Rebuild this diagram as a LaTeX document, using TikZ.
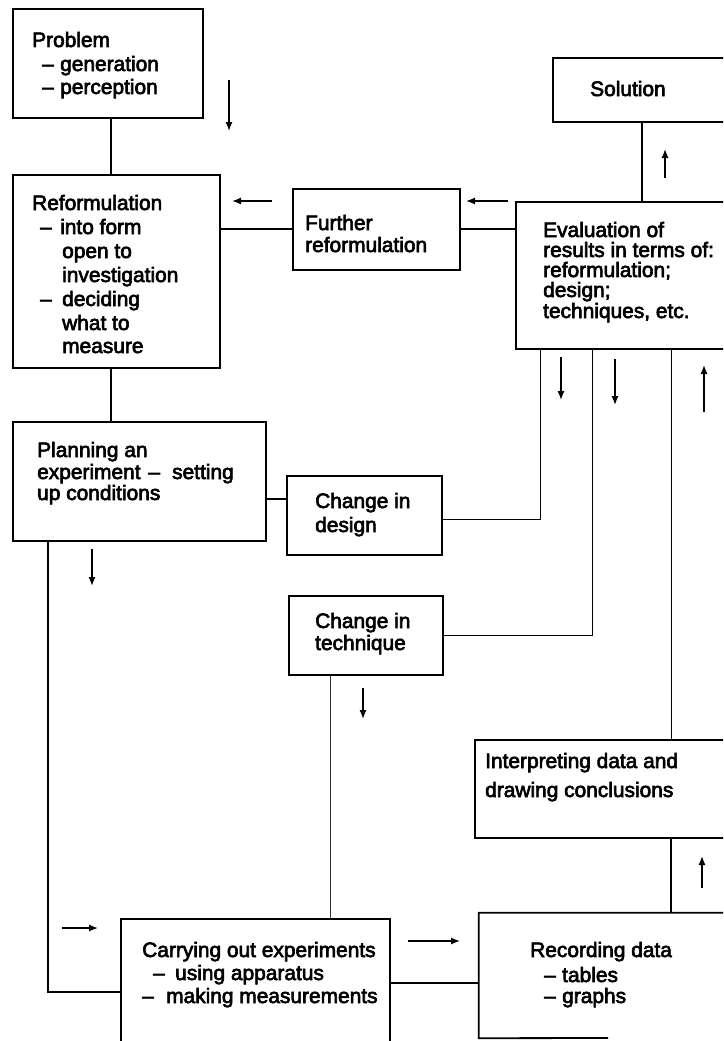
\documentclass[tikz,border=0pt]{standalone}
\usepackage{fontspec}
\setmainfont{Liberation Sans}[UprightFeatures={FakeBold=3}]
\usetikzlibrary{arrows.meta,fit}
\newcommand\tlin[4]{\node[lbl] (#1) at (#2,#3) {#4};}
\begin{document}
\begin{tikzpicture}[x=1pt,y=-1pt,
  box/.style={draw,line width=1.8pt,inner sep=0pt},
  boxline/.style={line width=1.8pt},
  con/.style={line width=1.3pt},
  thin/.style={line width=1pt},
  arr/.style={line width=1.3pt,-{Latex[length=9pt,width=7pt]}},
  lbl/.style={anchor=base west,inner sep=0pt,font=\fontsize{20.9}{20.9}\selectfont}]
\useasboundingbox (0,0) rectangle (723,1041);
\clip (0,0) rectangle (723,1041);
\fill[white] (0,0) rectangle (723,1041);

% boxes
\node[box,fit={(13,9)(203,118)}] (prob) {};
\node[box,fit={(13,175)(220,368)}] (ref) {};
\node[box,fit={(293,189)(460,270)}] (fur) {};
\node[box,fit={(553,58)(760,122)}] (sol) {};
\node[box,fit={(516,202)(760,349)}] (eval) {};
\node[box,fit={(13,422)(266,541)}] (plan) {};
\node[box,fit={(287,476)(442,555)}] (des) {};
\node[box,fit={(289,596)(443,675)}] (tech) {};
\node[box,fit={(475,740)(760,838)}] (int) {};
\node[box,fit={(121,919)(390,1075)}] (car) {};
\node[inner sep=0pt,fit={(479,913)(760,1038)}] (rec) {};
\coordinate (recend) at (608,1038);
\draw[boxline] (recend) -- (rec.south west) -- (rec.north west) -- (rec.north east);

% guide coordinates
\coordinate (c48) at (48,0);
\coordinate (c111) at (111,0);
\coordinate (c330) at (330,0);
\coordinate (c540) at (540,0);
\coordinate (c592) at (592,0);
\coordinate (c642) at (642,0);
\coordinate (c671) at (671,0);
\coordinate (r229) at (0,229);
\coordinate (r499) at (0,499);
\coordinate (r519) at (0,519);
\coordinate (r635) at (0,635);
\coordinate (r983) at (0,983);
\coordinate (r992) at (0,992);

% connectors
\draw[con] (prob.south -| c111) -- (ref.north -| c111);
\draw[con] (ref.south -| c111) -- (plan.north -| c111);
\draw[con] (ref.east |- r229) -- (fur.west |- r229);
\draw[con] (fur.east |- r229) -- (eval.west |- r229);
\draw[con] (eval.north -| c642) -- (sol.south -| c642);
\draw[thin] (eval.south -| c540) |- (des.east |- r519);
\draw[thin] (eval.south -| c592) |- (tech.east |- r635);
\draw[thin] (eval.south -| c671) -- (int.north -| c671);
\draw[con] (int.south -| c671) -- (rec.north -| c671);
\draw[con] (plan.east |- r499) -- (des.west |- r499);
\draw[con,line width=1.6pt] (plan.south -| c48) |- (car.west |- r992);
\draw[thin,black!80] (tech.south -| c330) -- (car.north -| c330);
\draw[con,line width=1.6pt] (car.east |- r983) -- (rec.west |- r983);

% free direction arrows
\draw[arr] (229,80) -- (229,131);
\draw[arr] (272,201) -- (232,201);
\draw[arr] (508,201) -- (466,201);
\draw[arr] (665,178) -- (665,149);
\draw[arr] (561,357) -- (561,400);
\draw[arr] (615,359) -- (615,405);
\draw[arr] (704,412) -- (704,365);
\draw[arr] (92,549) -- (92,586);
\draw[arr] (363,688) -- (363,719);
\draw[arr] (62,928) -- (98,928);
\draw[arr] (408,941) -- (460,941);
\draw[arr] (702,888) -- (702,856);

% texts
\tlin{p1}{32}{47}{Problem}
\tlin{p2}{42}{71}{–}
\tlin{p3}{60}{71}{generation}
\tlin{p4}{42}{94}{–}
\tlin{p5}{60}{94}{perception}

\tlin{r1}{32}{210}{Reformulation}
\tlin{r2}{40}{234}{–}
\tlin{r3}{60}{234}{into form}
\tlin{r4}{62}{258}{open to}
\tlin{r5}{62}{282}{investigation}
\tlin{r6}{40}{306}{–}
\tlin{r7}{62}{306}{deciding}
\tlin{r8}{62}{330}{what to}
\tlin{r9}{62}{353}{measure}

\tlin{f1}{305}{230}{Further}
\tlin{f2}{305}{252}{reformulation}

\tlin{s1}{590}{96}{Solution}

\tlin{e1}{543}{237}{Evaluation of}
\tlin{e2}{543}{257}{results in terms of:}
\tlin{e3}{543}{277}{reformulation;}
\tlin{e4}{543}{297}{design;}
\tlin{e5}{543}{318}{techniques, etc.}

\tlin{pl1}{37}{457}{Planning an}
\tlin{pl2}{37}{479}{experiment\hspace{8pt}–\hspace{12pt}setting}
\tlin{pl3}{37}{500}{up conditions}

\tlin{d1}{315}{508}{Change in}
\tlin{d2}{315}{532}{design}

\tlin{t1}{315}{628}{Change in}
\tlin{t2}{315}{650}{technique}

\tlin{i1}{485}{768}{Interpreting data and}
\tlin{i2}{485}{797}{drawing conclusions}

\tlin{c1}{142}{957}{Carrying out experiments}
\tlin{c2}{153}{980}{–}
\tlin{c3}{175}{980}{using apparatus}
\tlin{c4}{142}{1003}{–}
\tlin{c5}{166}{1003}{making measurements}

\tlin{rc1}{530}{957}{Recording data}
\tlin{rc2}{544}{982}{–}
\tlin{rc3}{562}{982}{tables}
\tlin{rc4}{544}{1003}{–}
\tlin{rc5}{562}{1003}{graphs}
\end{tikzpicture}
\end{document}
